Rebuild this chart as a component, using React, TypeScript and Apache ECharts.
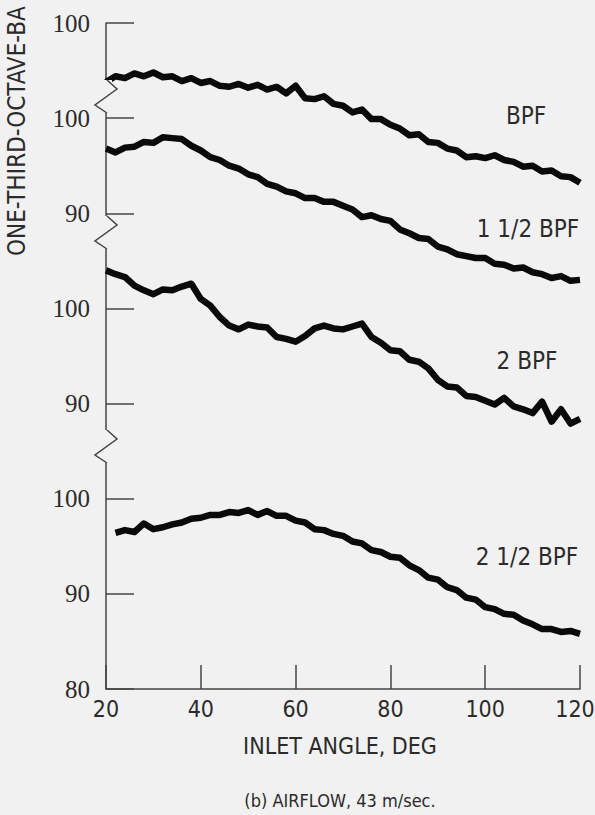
import React, { useEffect, useRef } from "react";
import * as echarts from "echarts";

// Inlet angle, deg
const inletAngleDeg = [
  20, 22, 24, 26, 28, 30, 32, 34, 36, 38, 40, 42, 44, 46, 48, 50, 52, 54, 56, 58,
  60, 62, 64, 66, 68, 70, 72, 74, 76, 78, 80, 82, 84, 86, 88, 90, 92, 94, 96, 98,
  100, 102, 104, 106, 108, 110, 112, 114, 116, 118, 120,
];

// One-third-octave-band SPL, dB (each read on its own broken-axis section)
const bpf = [
  93.8, 94.4, 94.2, 94.7, 94.4, 94.8, 94.3, 94.4, 93.9, 94.2,
  93.7, 93.9, 93.4, 93.3, 93.6, 93.2, 93.5, 93.0, 93.3, 92.6,
  93.4, 92.1, 92.0, 92.3, 91.5, 91.3, 90.6, 90.9, 89.9, 89.9,
  89.3, 88.9, 88.2, 88.3, 87.5, 87.4, 86.8, 86.6, 85.9, 86.0,
  85.8, 86.1, 85.6, 85.4, 84.9, 85.0, 84.4, 84.5, 83.9, 83.8,
  83.2,
];
const bpf1half = [
  96.8, 96.4, 96.9, 97.0, 97.5, 97.4, 98.0, 97.9, 97.8, 97.1,
  96.6, 95.9, 95.6, 95.0, 94.7, 94.1, 93.8, 93.1, 92.8, 92.3,
  92.1, 91.6, 91.6, 91.2, 91.2, 90.8, 90.4, 89.6, 89.8, 89.4,
  89.2, 88.3, 87.9, 87.4, 87.3, 86.5, 86.2, 85.7, 85.5, 85.3,
  85.3, 84.7, 84.6, 84.2, 84.3, 83.8, 83.6, 83.2, 83.4, 82.9,
  83.0,
];
const bpf2 = [
  104.0, 103.6, 103.3, 102.4, 101.9, 101.5, 102.0, 101.9, 102.3, 102.6,
  101.0, 100.3, 99.1, 98.2, 97.8, 98.3, 98.1, 98.0, 97.0, 96.8,
  96.5, 97.1, 97.9, 98.2, 97.9, 97.8, 98.1, 98.4, 97.0, 96.4,
  95.6, 95.5, 94.6, 94.4, 93.7, 92.5, 91.8, 91.7, 90.8, 90.7,
  90.3, 89.9, 90.6, 89.7, 89.4, 89.0, 90.2, 88.1, 89.4, 87.9,
  88.4,
];
const bpf2half = [
  null, 96.4, 96.7, 96.5, 97.4, 96.8, 97.0, 97.3, 97.5, 97.9,
  98.0, 98.3, 98.3, 98.6, 98.5, 98.8, 98.3, 98.7, 98.2, 98.2,
  97.7, 97.5, 96.8, 96.7, 96.3, 96.1, 95.5, 95.3, 94.6, 94.4,
  93.9, 93.8, 93.0, 92.5, 91.7, 91.5, 90.7, 90.4, 89.6, 89.4,
  88.6, 88.4, 87.9, 87.8, 87.2, 86.8, 86.3, 86.3, 86.0, 86.1,
  85.8,
];

const seriesNames = ["BPF", "1 1/2 BPF", "2 BPF", "2 1/2 BPF"];
const seriesValues = [bpf, bpf1half, bpf2, bpf2half];
// vertical offset of each broken-axis section (dB added to plot position)
const sectionOffsets = [50, 40, 20, 0];

// tick labels at plot positions 80, 90, ..., 150
const yTickLabels = ["80", "90", "100", "90", "100", "90", "100", "100"];
const xTickLabels = ["20", "40", "60", "80", "100", "120"];

const BG = "#f1f1f1";
const INK = "#2b2b2b";
const NARROW = "'Liberation Sans Narrow', 'DejaVu Sans Condensed', sans-serif";
const SERIF = "'Liberation Serif', 'DejaVu Serif', serif";

function breakMark(y0: number) {
  return [
    {
      type: "rect",
      z: 100,
      shape: { x: 103, y: y0, width: 9, height: 33 },
      style: { fill: BG },
    },
    {
      type: "polyline",
      z: 101,
      shape: {
        points: [
          [107, y0],
          [117, y0 + 9],
          [95, y0 + 25],
          [107, y0 + 33],
        ],
      },
      style: { stroke: "#444", lineWidth: 1.5, fill: "none" },
    },
  ];
}

function label(text: string, x: number, y: number, size = 24, rotation = 0, align = "center") {
  return {
    type: "text",
    z: 102,
    x,
    y,
    rotation,
    style: {
      text,
      fill: INK,
      font: `${size}px ${NARROW}`,
      align,
      verticalAlign: "middle",
      textAlign: align,
      textVerticalAlign: "middle",
    },
  };
}

export default function App() {
  const ref = useRef<HTMLDivElement>(null);
  useEffect(() => {
    document.body.style.margin = "0";
    const chart = echarts.init(ref.current!, null, { renderer: "svg" });
    const series = seriesValues.map((vals, i) => ({
      type: "line",
      name: seriesNames[i],
      symbol: "none",
      connectNulls: false,
      data: inletAngleDeg.map((d, j) => [d, vals[j] == null ? null : (vals[j] as number) + sectionOffsets[i]]),
      lineStyle: { color: "#0a0a0a", width: 6.5, join: "round" },
    }));
    chart.setOption({
      animation: false,
      backgroundColor: BG,
      grid: { left: 106, right: 15, top: 23, bottom: 126, containLabel: false, outerBoundsMode: "none" },
      xAxis: {
        type: "value",
        min: 20,
        max: 120,
        interval: 20,
        axisLine: { lineStyle: { color: "#444", width: 1.5 } },
        axisTick: { inside: true, length: 24, lineStyle: { color: "#444", width: 1.5 } },
        splitLine: { show: false },
        axisLabel: {
          margin: 8,
          color: INK,
          fontFamily: NARROW,
          fontSize: 23,
          formatter: (v: number) => {
            const t = xTickLabels[Math.round((v - 20) / 20)] ?? "";
            return v === 120 ? `{last|${t}}` : t;
          },
          rich: {
            last: { fontFamily: NARROW, fontSize: 23, color: INK, padding: [0, 10, 0, 0] },
          },
        },
      },
      yAxis: {
        type: "value",
        min: 80,
        max: 150,
        interval: 10,
        axisLine: { show: true, lineStyle: { color: "#444", width: 1.5 } },
        axisTick: { show: true, inside: true, length: 28, lineStyle: { color: "#444", width: 1.5 } },
        splitLine: { show: false },
        axisLabel: {
          margin: 16,
          color: INK,
          fontFamily: SERIF,
          fontSize: 25,
          formatter: (v: number) => yTickLabels[Math.round((v - 80) / 10)] ?? "",
        },
      },
      series,
      graphic: [
        ...breakMark(80),
        ...breakMark(216),
        ...breakMark(430),
        label("BPF", 526, 116),
        label("1 1/2 BPF", 528, 229),
        label("2 BPF", 527, 361),
        label("2 1/2 BPF", 527, 557),
        label("INLET ANGLE, DEG", 340, 746, 23),
        label("(b) AIRFLOW, 43 m/sec.", 340, 800, 18),
        label("ONE-THIRD-OCTAVE-BA", 17, 256, 24, Math.PI / 2, "left"),
      ],
    });
    return () => chart.dispose();
  }, []);
  return (
    <div
      ref={ref}
      style={{ position: "absolute", left: 0, top: 0, width: 595, height: 815 }}
    />
  );
}
